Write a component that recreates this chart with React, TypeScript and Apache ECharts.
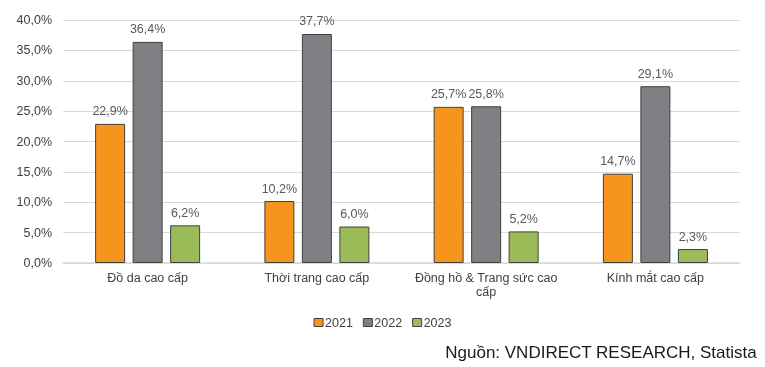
import React, { useEffect, useRef } from "react";
import * as echarts from "echarts";

const categories = ["Đồ da cao cấp", "Thời trang cao cấp", "Đồng hồ & Trang sức cao cấp", "Kính mắt cao cấp"];
const seriesNames = ["2021", "2022", "2023"];
const values2021 = [22.9, 10.2, 25.7, 14.7];
const values2022 = [36.4, 37.7, 25.8, 29.1];
const values2023 = [6.2, 6.0, 5.2, 2.3];
const colors = ["#F7941D", "#7F7F84", "#9BBB59"];
const yTicks = { min: 0, max: 40, interval: 5 };
const sourceText = "Nguồn: VNDIRECT RESEARCH, Statista";

const fmt = (v: number) => v.toFixed(1).replace(".", ",") + "%";

export default function App() {
  const ref = useRef<HTMLDivElement>(null);
  useEffect(() => {
    const chart = echarts.init(ref.current!, undefined, { renderer: "svg" });
    const font = "'Liberation Sans', Arial, sans-serif";
    const data = [values2021, values2022, values2023];
    chart.setOption({
      animation: false,
      textStyle: { fontFamily: font },
      grid: { left: 63, right: 25, top: 20, bottom: 104, containLabel: false },
      legend: {
        data: seriesNames,
        left: "center",
        top: 311,
        icon: "rect",
        itemWidth: 9,
        itemHeight: 8,
        itemGap: 10,
        itemStyle: { borderColor: "#404040", borderWidth: 1 },
        textStyle: { fontSize: 12.5, color: "#404040", fontFamily: font, padding: [0, 0, 0, -3] },
      },
      xAxis: {
        type: "category",
        data: categories,
        axisLine: { lineStyle: { color: "#D9D9D9", width: 1.5 } },
        axisTick: { show: false },
        axisLabel: {
          fontSize: 12.5,
          color: "#404040",
          margin: 8,
          lineHeight: 14,
          interval: 0,
          formatter: (v: string) => (v.length > 22 ? v.replace(/ (\S+)$/, "\n$1") : v),
        },
      },
      yAxis: {
        type: "value",
        min: yTicks.min,
        max: yTicks.max,
        interval: yTicks.interval,
        axisLabel: { formatter: (v: number) => fmt(v), fontSize: 12.5, color: "#404040", margin: 11 },
        splitLine: { lineStyle: { color: "#D9D9D9", width: 1 } },
        axisLine: { show: false },
        axisTick: { show: false },
      },
      series: seriesNames.map((name, i) => ({
        name,
        type: "bar",
        data: data[i],
        barWidth: 30,
        barGap: "25%",
        itemStyle: { color: colors[i], borderColor: "#404040", borderWidth: 1 },
        label: {
          show: true,
          position: "top",
          distance: 6,
          fontSize: 12.5,
          color: "#595959",
          formatter: (p: any) => fmt(p.value),
        },
      })),
      graphic: [
        {
          type: "text",
          right: 8,
          top: 344,
          style: { text: sourceText, fontSize: 17, fill: "#1a1a1a", fontFamily: font },
        },
      ],
    });
    return () => chart.dispose();
  }, []);
  return <div ref={ref} style={{ position: "fixed", left: 0, top: 0, width: 765, height: 367 }} />;
}
